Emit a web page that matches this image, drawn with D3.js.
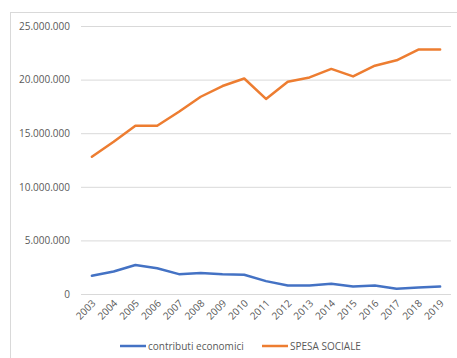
<!DOCTYPE html>
<html>
<head>
<meta charset="utf-8">
<script src="https://cdn.jsdelivr.net/npm/d3@7"></script>
<style>
  body { margin: 0; background: #fff; }
  text { font-family: "Open Sans", "Liberation Sans", sans-serif; fill: #595959; }
</style>
</head>
<body>
<div id="chart"></div>
<script>
// data
var years = ["2003","2004","2005","2006","2007","2008","2009","2010","2011","2012","2013","2014","2015","2016","2017","2018","2019"];
var contributi = [1700000, 2100000, 2700000, 2400000, 1850000, 1950000, 1850000, 1800000, 1200000, 800000, 800000, 950000, 700000, 800000, 500000, 600000, 700000];
var spesa = [12800000, 14200000, 15700000, 15700000, 17000000, 18400000, 19400000, 20100000, 18200000, 19800000, 20200000, 21000000, 20300000, 21300000, 21800000, 22800000, 22800000];
var yTicks = [0, 5000000, 10000000, 15000000, 20000000, 25000000];
var seriesNames = ["contributi economici", "SPESA SOCIALE"];
var seriesColors = ["#4472c4", "#ed7d31"];

var width = 457, height = 358;
var margin = {top: 26, right: 6, bottom: 64, left: 81};

var svg = d3.select("#chart")
    .append("svg")
    .attr("width", width)
    .attr("height", height);

// chart frame
svg.append("rect")
    .attr("x", 10.5).attr("y", 12.5)
    .attr("width", width).attr("height", height)
    .attr("fill", "#fff")
    .attr("stroke", "#d9d9d9");

var xScale = d3.scalePoint().domain(years)
    .range([margin.left, width - margin.right]).padding(0.5);
var yScale = d3.scaleLinear().domain([0, 25000000])
    .range([height - margin.bottom, margin.top]);

var fmt = function(d) { return d3.format(",")(d).replace(/,/g, "."); };

// gridlines + y labels
var yAxis = d3.axisLeft(yScale).tickValues(yTicks)
    .tickSize(-(width - margin.right - margin.left))
    .tickPadding(11)
    .tickFormat(fmt);

var gy = svg.append("g")
    .attr("transform", "translate(" + margin.left + ",0)")
    .call(yAxis);
gy.select(".domain").remove();
gy.selectAll("line").attr("stroke", "#d9d9d9");
gy.selectAll("text").style("font-size", "10px").attr("fill", "#595959");

// x labels
var xAxis = d3.axisBottom(xScale).tickSize(0).tickPadding(0);
var gx = svg.append("g")
    .attr("transform", "translate(0," + yScale(0) + ")")
    .call(xAxis);
gx.select(".domain").remove();
gx.selectAll("text")
    .style("font-size", "10px")
    .attr("fill", "#595959")
    .attr("dy", 0)
    .attr("text-anchor", "end")
    .attr("transform", "translate(4,10) rotate(-45)");

// lines
var line = d3.line()
    .x(function(d, i) { return xScale(years[i]); })
    .y(function(d) { return yScale(d); });

[contributi, spesa].forEach(function(s, i) {
    svg.append("path")
        .attr("d", line(s))
        .attr("fill", "none")
        .attr("stroke", seriesColors[i])
        .attr("stroke-width", 2.5)
        .attr("stroke-linejoin", "round")
        .attr("stroke-linecap", "round");
});

// legend
var legendX = [120, 262];
seriesNames.forEach(function(name, i) {
    var g = svg.append("g").attr("transform", "translate(" + legendX[i] + ",346)");
    g.append("line")
        .attr("x1", 0).attr("x2", 26)
        .attr("stroke", seriesColors[i]).attr("stroke-width", 2.5);
    g.append("text")
        .attr("x", 28).attr("dy", "0.35em")
        .style("font-size", "10px")
        .text(name);
});
</script>
</body>
</html>
